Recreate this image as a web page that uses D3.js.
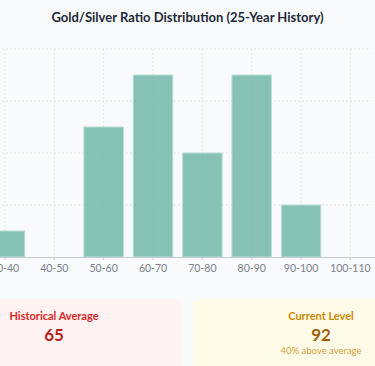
<!DOCTYPE html>
<html>
<head>
<meta charset="utf-8">
<script src="https://cdn.jsdelivr.net/npm/d3@7"></script>
<style>
  html, body { margin: 0; padding: 0; }
  body {
    width: 375px; height: 366px; overflow: hidden;
    background: #f8fafc; position: relative;
    font-family: Lato, "Open Sans", sans-serif;
  }
  #wrap { position: absolute; top: 0; left: 50%; width: 523px; margin-left: -261.5px; }
  #chart svg { display: block; }
  .cards { display: flex; gap: 11px; margin-top: 9px; }
  .card { width: 256px; height: 90px; border-radius: 8px; text-align: center; box-sizing: border-box; padding-top: 10px; }
  .card .lbl { font-size: 11px; font-weight: 700; line-height: 14px; }
  .card .val { font-size: 17px; font-weight: 700; line-height: 20px; margin-top: 2px; }
  .card .sub { font-size: 9.5px; line-height: 12px; }
  .avg { background: #fef2f2; }
  .avg .lbl { color: #dc2626; }
  .avg .val { color: #b91c1c; }
  .cur { background: #fefce8; }
  .cur .lbl { color: #ca8a04; }
  .cur .val { color: #a16207; }
  .cur .sub { color: #d4a03a; }
</style>
</head>
<body>
<div id="wrap">
  <div id="chart"></div>
  <div class="cards" id="cards"></div>
</div>
<script>
document.addEventListener('DOMContentLoaded', function () {
  var title = "Gold/Silver Ratio Distribution (25-Year History)";

  // ratio buckets and number of years spent in each
  var buckets = ["20-30", "30-40", "40-50", "50-60", "60-70", "70-80", "80-90", "90-100", "100-110"];
  var years = [0, 1, 0, 5, 7, 4, 7, 2, 0];
  var yTicks = [0, 2, 4, 6, 8];

  var historicalAvg = 65,
      currentLevel = 92,
      currentNote = "40% above average";

  var data = buckets.map(function(b, i) { return { bucket: b, years: years[i] }; });

  var margin = { top: 49, right: 69, bottom: 33, left: 0 },
      width = 523 - margin.left - margin.right,
      height = 290 - margin.top - margin.bottom;

  var svg = d3.select("#chart").append("svg")
      .attr("width", width + margin.left + margin.right)
      .attr("height", height + margin.top + margin.bottom);

  svg.append("text")
      .attr("x", (width + margin.left + margin.right) / 2)
      .attr("y", 22)
      .attr("text-anchor", "middle")
      .style("font-size", "13px")
      .style("font-weight", "700")
      .style("fill", "#1f2937")
      .text(title);

  var g = svg.append("g")
      .attr("transform", "translate(" + margin.left + "," + margin.top + ")");

  var x = d3.scaleBand()
      .domain(buckets)
      .range([0, width])
      .padding(0.2);

  var y = d3.scaleLinear()
      .domain([0, d3.max(yTicks)])
      .range([height, 0]);

  // dotted grid
  g.append("g").selectAll("line")
      .data(yTicks.slice(1))
      .enter().append("line")
      .attr("x1", 0).attr("x2", width)
      .attr("y1", function(d) { return y(d); })
      .attr("y2", function(d) { return y(d); })
      .style("stroke", "#e2e5ea")
      .style("stroke-dasharray", "2,2");

  g.append("g").selectAll("line")
      .data(buckets)
      .enter().append("line")
      .attr("x1", function(d) { return x(d) + x.bandwidth() / 2; })
      .attr("x2", function(d) { return x(d) + x.bandwidth() / 2; })
      .attr("y1", 0).attr("y2", height)
      .style("stroke", "#e2e5ea")
      .style("stroke-dasharray", "2,2");

  g.append("g").selectAll("rect")
      .data(data)
      .enter().append("rect")
      .attr("x", function(d) { return x(d.bucket); })
      .attr("y", function(d) { return y(d.years); })
      .attr("width", x.bandwidth())
      .attr("height", function(d) { return height - y(d.years); })
      .style("fill", "#69b3a2")
      .style("fill-opacity", 0.8)
      .style("stroke", "#b9ded5")
      .style("stroke-width", 1);

  var xAxis = g.append("g")
      .attr("transform", "translate(0," + height + ")")
      .call(d3.axisBottom(x).tickSize(3).tickPadding(5));
  xAxis.select(".domain").style("stroke", "#c9cdd3");
  xAxis.selectAll(".tick line").style("stroke", "#c9cdd3");
  xAxis.selectAll("text")
      .style("font-family", "Lato, 'Open Sans', sans-serif")
      .style("font-size", "10.5px")
      .style("fill", "#7b818a");

  var cards = d3.select("#cards");
  var avg = cards.append("div").attr("class", "card avg");
  avg.append("div").attr("class", "lbl").text("Historical Average");
  avg.append("div").attr("class", "val").text(historicalAvg);

  var cur = cards.append("div").attr("class", "card cur");
  cur.append("div").attr("class", "lbl").text("Current Level");
  cur.append("div").attr("class", "val").text(currentLevel);
  cur.append("div").attr("class", "sub").text(currentNote);
});
</script>
</body>
</html>
